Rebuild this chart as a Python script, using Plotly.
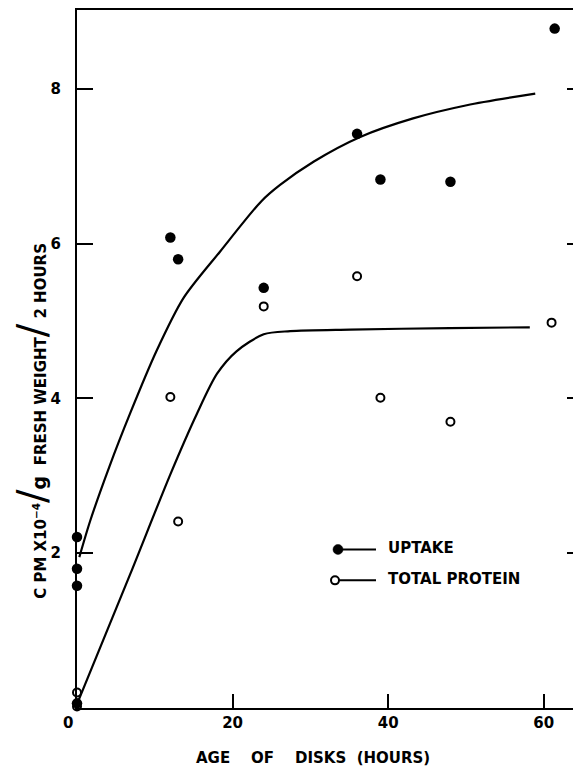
import plotly.graph_objects as go

# ---- data ----
uptake_x = [0, 0, 0, 0, 12, 13, 24, 36, 39, 48, 61.4]
uptake_y = [2.21, 1.80, 1.58, 0.06, 6.08, 5.80, 5.43, 7.42, 6.83, 6.80, 8.78]

protein_x = [0, 0, 12, 13, 24, 36, 39, 48, 61]
protein_y = [0.20, 0.02, 4.02, 2.41, 5.19, 5.58, 4.01, 3.70, 4.98]

uptake_curve_x = [0.3, 1.7, 4.2, 6.8, 10.2, 13.7, 18.4, 23.7, 26.1, 30.4, 36.4, 43.2, 50.1, 58.9]
uptake_curve_y = [1.95, 2.42, 3.13, 3.80, 4.61, 5.30, 5.90, 6.55, 6.76, 7.06, 7.38, 7.62, 7.79, 7.94]

protein_curve_x = [0.0, 6.8, 12.0, 15.4, 18.0, 20.5, 24.0, 27.4, 35.1, 47.9, 58.2]
protein_curve_y = [0.05, 1.72, 3.02, 3.80, 4.32, 4.61, 4.83, 4.87, 4.89, 4.91, 4.92]

x_ticks = [20, 40, 60]
y_ticks = [2, 4, 6, 8]

# ---- layout geometry ----
W, H = 581, 769
OFF = 8  # page body offset
ML, MR, MT, MB = 69, 0, 0, 69
PW, PH = W - ML - MR, H - MT - MB


def px(wx):
    return (wx - OFF - ML) / PW


def py(wy):
    return (H - MB - (wy - OFF)) / PH


fig = go.Figure()
line_style = dict(color="black", width=2.2)
fig.add_trace(go.Scatter(x=uptake_curve_x, y=uptake_curve_y, mode="lines",
                         line=dict(shape="spline", smoothing=0.8, **line_style),
                         hoverinfo="skip", showlegend=False))
fig.add_trace(go.Scatter(x=protein_curve_x, y=protein_curve_y, mode="lines",
                         line=dict(shape="spline", smoothing=0.8, **line_style),
                         hoverinfo="skip", showlegend=False))
fig.add_trace(go.Scatter(x=uptake_x, y=uptake_y, mode="markers", name="UPTAKE",
                         marker=dict(symbol="circle", size=10.5, color="black",
                                     line=dict(width=0)),
                         cliponaxis=False, showlegend=False))
fig.add_trace(go.Scatter(x=protein_x, y=protein_y, mode="markers", name="TOTAL PROTEIN",
                         marker=dict(symbol="circle-open", size=8, color="black",
                                     line=dict(width=2)),
                         cliponaxis=False, showlegend=False))
# invisible trace to carry the right-hand tick axis
fig.add_trace(go.Scatter(x=[None], y=[None], yaxis="y2", showlegend=False, hoverinfo="skip"))

tickfont = dict(family="DejaVu Sans", size=15, color="black", weight="bold")
fig.update_layout(
    width=W, height=H,
    margin=dict(l=ML, r=MR, t=MT, b=MB),
    paper_bgcolor="white", plot_bgcolor="white",
    showlegend=False,
    xaxis=dict(range=[0, PW / 7.78], tickvals=x_ticks, ticks="inside", ticklen=14,
               tickwidth=2, tickcolor="black", showline=True, linecolor="black",
               linewidth=2.2, mirror=True, showgrid=False, zeroline=False,
               tickfont=tickfont, ticklabelstandoff=0),
    yaxis=dict(range=[0, PH / 77.6], tickvals=y_ticks, ticks="inside", ticklen=16,
               tickwidth=2, tickcolor="black", showline=True, linecolor="black",
               linewidth=2.2, showgrid=False, zeroline=False,
               tickfont=tickfont, ticklabelstandoff=11),
    yaxis2=dict(range=[0, PH / 77.6], overlaying="y", side="right", tickvals=y_ticks,
                ticks="inside", ticklen=22, tickwidth=2, tickcolor="black",
                showticklabels=False, showline=False, showgrid=False, zeroline=False),
)

# corner "0" label
fig.add_annotation(x=0, y=0, xref="x", yref="y", text="0", showarrow=False,
                   xshift=-9, yshift=-15, font=tickfont)

titlefont = dict(family="DejaVu Sans", size=15, color="black", weight="bold")
fig.add_annotation(x=px(313), y=py(758), xref="paper", yref="paper",
                   xanchor="center", yanchor="middle",
                   text=("AGE&nbsp;&nbsp;&nbsp;&nbsp;OF&nbsp;&nbsp;&nbsp;&nbsp;"
                         "DISKS&nbsp;&nbsp;(HOURS)"),
                   showarrow=False, font=titlefont)
slash = "<span style='font-size:40px;font-weight:normal'>/</span>"
fig.add_annotation(x=px(32), y=py(420), xref="paper", yref="paper", textangle=-90,
                   xanchor="center", yanchor="middle",
                   text=("C PM X10<sup>−4</sup>" + slash +
                         "<span style='font-size:19px'>g</span>&nbsp; FRESH WEIGHT" + slash +
                         " 2 HOURS"),
                   showarrow=False, font=titlefont)

# legend (drawn)
fig.add_shape(type="circle", xref="paper", yref="paper", xsizemode="pixel", ysizemode="pixel",
              xanchor=px(338), yanchor=py(549), x0=-5, x1=5, y0=-5, y1=5,
              fillcolor="black", line=dict(color="black", width=0.5))
fig.add_shape(type="line", xref="paper", yref="paper", x0=px(340), x1=px(376),
              y0=py(549), y1=py(549), line=dict(color="black", width=2))
fig.add_shape(type="circle", xref="paper", yref="paper", xsizemode="pixel", ysizemode="pixel",
              xanchor=px(335), yanchor=py(580), x0=-4, x1=4, y0=-4, y1=4,
              fillcolor="white", line=dict(color="black", width=2))
fig.add_shape(type="line", xref="paper", yref="paper", x0=px(339), x1=px(376),
              y0=py(580), y1=py(580), line=dict(color="black", width=2))
fig.add_annotation(x=px(386), y=py(548), xref="paper", yref="paper",
                   xanchor="left", yanchor="middle",
                   text="UPTAKE", showarrow=False, font=titlefont)
fig.add_annotation(x=px(386), y=py(579), xref="paper", yref="paper",
                   xanchor="left", yanchor="middle",
                   text="TOTAL PROTEIN", showarrow=False, font=titlefont)

fig.write_html("out.html")
